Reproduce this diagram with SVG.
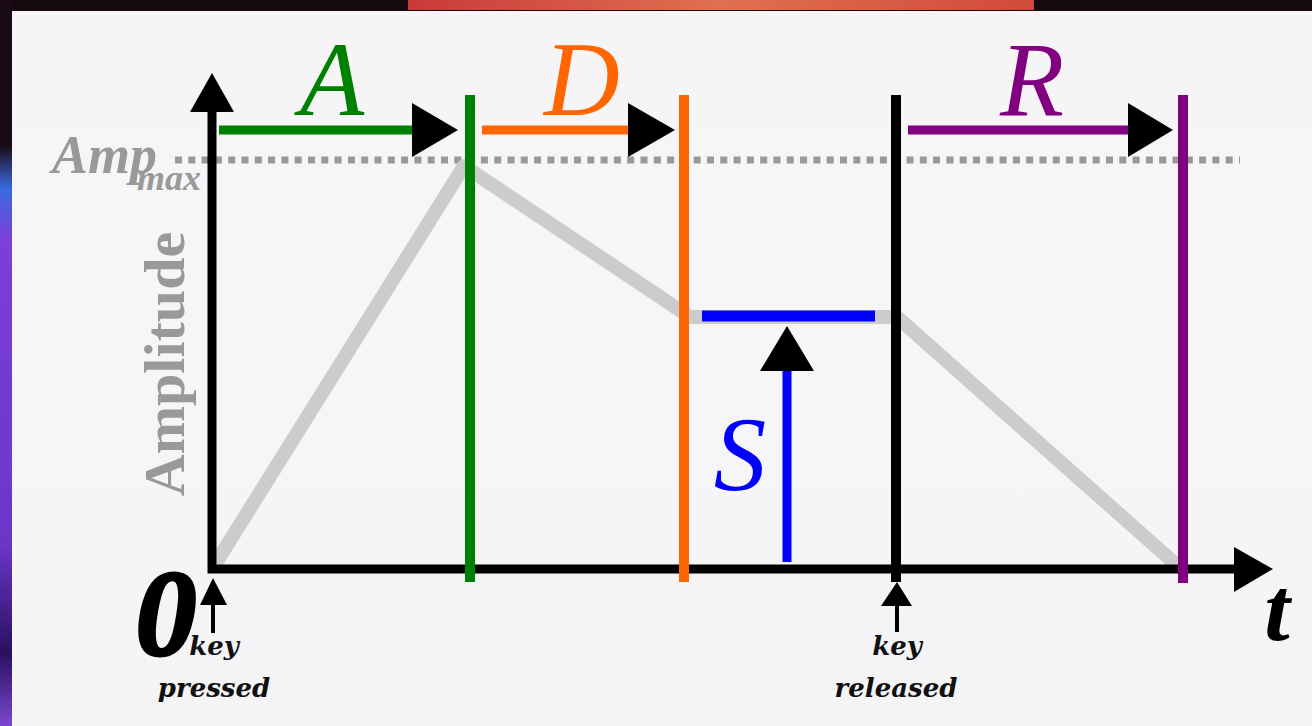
<svg xmlns="http://www.w3.org/2000/svg" width="1312" height="726" viewBox="0 0 1312 726">
<defs>
<linearGradient id="redbar" x1="0" y1="0" x2="1" y2="0">
<stop offset="0" stop-color="#c83a3a"/><stop offset="0.5" stop-color="#e07050"/><stop offset="1" stop-color="#d04a3a"/>
</linearGradient>
<linearGradient id="leftstrip" x1="0" y1="0" x2="0" y2="1">
<stop offset="0" stop-color="#1a0a14"/><stop offset="0.2" stop-color="#1a0a14"/><stop offset="0.26" stop-color="#3a6ae0"/><stop offset="0.33" stop-color="#7a40d8"/><stop offset="0.75" stop-color="#6a36c8"/><stop offset="0.9" stop-color="#2a1060"/><stop offset="1" stop-color="#7a48d0"/>
</linearGradient>
<linearGradient id="panel" x1="0" y1="0" x2="0" y2="1">
<stop offset="0" stop-color="#f6f4f5"/><stop offset="0.5" stop-color="#f6f6f9"/><stop offset="1" stop-color="#f4f4f6"/>
</linearGradient>
</defs>
<style>
.env{fill:none;stroke:#cccccc;stroke-width:14;stroke-linejoin:round}
.dot{fill:none;stroke:#999999;stroke-width:7;stroke-dasharray:7 6.3}
.ax{stroke:#000;stroke-width:9;fill:none}
.head{fill:#000}
.v{stroke-width:10;fill:none}
.h{stroke-width:9;fill:none}
.big{font-family:"Liberation Serif",serif;font-style:italic;font-size:105px;text-anchor:middle}
.gray{fill:#999999;font-family:"Liberation Serif",serif}
.note{font-family:"DejaVu Serif",serif;font-weight:bold;font-style:italic;font-size:26px;fill:#111;text-anchor:middle}
</style>
<g id="background">
<rect x="0" y="0" width="1312" height="726" fill="#160a0e"/>
<rect x="408" y="0" width="626" height="10" fill="url(#redbar)"/>
<rect x="0" y="0" width="12" height="726" fill="url(#leftstrip)"/>
<rect x="12" y="11" width="1300" height="715" fill="url(#panel)"/>
</g>
<g id="connectors">
<line class="dot" x1="175" y1="160" x2="1240" y2="160"/>
<polyline id="envelope" class="env" points="214,566 464,166 690,317 897,317 1180,568"/>
<g id="axes">
<polyline class="ax" points="212,108 212,569 1238,569"/>
<polygon class="head" points="212,73 190,112 234,112"/>
<polygon class="head" points="1273,569 1234,547 1234,592"/>
</g>
<g id="attack-arrow">
<line class="h" stroke="#008000" x1="219" y1="130" x2="416" y2="130"/>
<polygon class="head" points="458,130 412,103 412,157"/>
</g>
<g id="decay-arrow">
<line class="h" stroke="#ff6600" x1="482" y1="130" x2="632" y2="130"/>
<polygon class="head" points="675,130 628,103 628,157"/>
</g>
<g id="release-arrow">
<line class="h" stroke="#800080" x1="908" y1="130" x2="1132" y2="130"/>
<polygon class="head" points="1173,130 1128,103 1128,157"/>
</g>
<g id="sustain">
<line stroke="#0000ff" stroke-width="11" x1="702" y1="316" x2="875" y2="316"/>
<line class="h" stroke="#0000ff" x1="787" y1="562" x2="787" y2="368"/>
<polygon class="head" points="787,326 760,371 814,371"/>
</g>
<g id="dividers">
<line class="v" stroke="#008000" x1="470" y1="95" x2="470" y2="582"/>
<line class="v" stroke="#ff6600" x1="684" y1="95" x2="684" y2="582"/>
<line class="v" stroke="#000000" stroke-width="11" x1="896" y1="95" x2="896" y2="582"/>
<line class="v" stroke="#800080" x1="1183" y1="95" x2="1183" y2="583"/>
</g>
<g id="key-arrows">
<line stroke="#000" stroke-width="4" x1="213" y1="600" x2="213" y2="633"/>
<polygon class="head" points="213,578 200,605 227,605"/>
<line stroke="#000" stroke-width="4" x1="897" y1="602" x2="897" y2="632"/>
<polygon class="head" points="897,582 881,606 912,606"/>
</g>
</g>
<g id="label-A"><text class="big" fill="#008000" x="332" y="115">A</text></g>
<g id="label-D"><text class="big" fill="#ff6600" x="582" y="115">D</text></g>
<g id="label-R"><text class="big" fill="#800080" x="1032" y="115">R</text></g>
<g id="label-S"><text class="big" fill="#0000ff" x="740" y="490">S</text></g>
<g id="label-amp">
<text class="gray" x="52" y="173" font-size="54" font-weight="bold" font-style="italic">Amp</text>
<text class="gray" x="137" y="190" font-size="36" font-weight="bold" font-style="italic">max</text>
</g>
<g id="label-amplitude">
<text class="gray" transform="translate(184,364) rotate(-90)" font-size="58" font-weight="bold" text-anchor="middle">Amplitude</text>
</g>
<g id="label-zero"><text x="166" y="655" font-family="Liberation Serif, serif" font-weight="bold" font-style="italic" font-size="122" text-anchor="middle" fill="#000" stroke="#000" stroke-width="3">0</text></g>
<g id="label-t"><text x="1277" y="640" font-family="Liberation Serif, serif" font-weight="bold" font-style="italic" font-size="92" text-anchor="middle" fill="#000">t</text></g>
<g id="label-pressed">
<text class="note" x="214" y="655">key</text>
<text class="note" x="214" y="697">pressed</text>
</g>
<g id="label-released">
<text class="note" x="897" y="655">key</text>
<text class="note" x="896" y="697">released</text>
</g>
</svg>
